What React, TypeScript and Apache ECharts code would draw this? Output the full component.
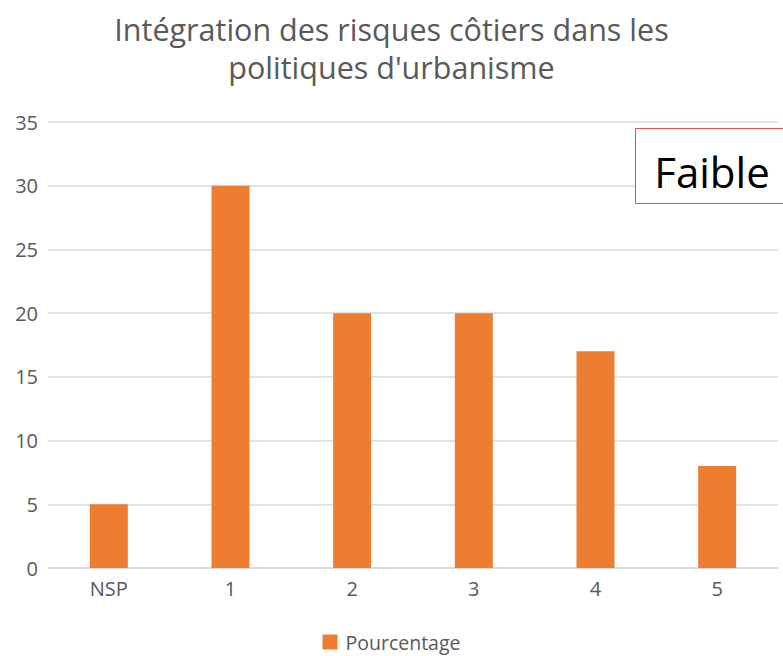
import React, { useEffect, useRef } from "react";
import * as echarts from "echarts";

const categories = ["NSP", "1", "2", "3", "4", "5"];
const values = [5, 30, 20, 20, 17, 8];
const seriesName = "Pourcentage";
const titleText = "Intégration des risques côtiers dans les\npolitiques d'urbanisme";
const boxLabel = "Faible";

export default function App() {
  const ref = useRef<HTMLDivElement>(null);
  useEffect(() => {
    if (!ref.current) return;
    const chart = echarts.init(ref.current, null, { renderer: "svg" });
    const font = "'Open Sans', 'Noto Sans', sans-serif";
    chart.setOption({
      animation: false,
      backgroundColor: "#ffffff",
      textStyle: { fontFamily: font },
      title: {
        text: titleText,
        left: "center",
        top: 5,
        textStyle: { fontSize: 30.5, fontWeight: "normal", color: "#595959", lineHeight: 38, fontFamily: font },
      },
      legend: {
        bottom: 4,
        left: "center",
        itemWidth: 15,
        itemHeight: 15,
        itemGap: 6,
        padding: 0,
        icon: "rect",
        textStyle: { fontSize: 19.5, color: "#595959", fontFamily: font, padding: [0, 0, 0, 3] },
        data: [seriesName],
      },
      grid: { left: 48, right: 5, top: 122, bottom: 88 },
      xAxis: {
        type: "category",
        data: categories,
        axisLine: { lineStyle: { color: "#d9d9d9", width: 1.5 } },
        axisTick: { show: false },
        axisLabel: { fontSize: 20, color: "#595959", margin: 10, fontFamily: font },
      },
      yAxis: {
        type: "value",
        min: 0,
        max: 35,
        interval: 5,
        axisLine: { show: false },
        axisTick: { show: false },
        axisLabel: { fontSize: 20, color: "#595959", margin: 10, fontFamily: font },
        splitLine: { lineStyle: { color: "#d9d9d9", width: 1.5 } },
      },
      series: [
        {
          name: seriesName,
          type: "bar",
          data: values,
          barWidth: 38,
          itemStyle: { color: "#ed7d31" },
        },
      ],
      graphic: [
        {
          type: "rect",
          left: 635,
          top: 128,
          shape: { width: 160, height: 75 },
          style: { fill: "#ffffff", stroke: "#e84a4a", lineWidth: 1 },
          z: 100,
        },
        {
          type: "text",
          x: 712,
          y: 171,
          style: {
            text: boxLabel,
            fontSize: 42,
            fill: "#000000",
            fontFamily: font,
            align: "center",
            verticalAlign: "middle",
          },
          z: 101,
        },
      ],
    });
    return () => chart.dispose();
  }, []);
  return (
    <div
      ref={ref}
      style={{ position: "fixed", left: 0, top: 0, width: 783, height: 656 }}
    />
  );
}
